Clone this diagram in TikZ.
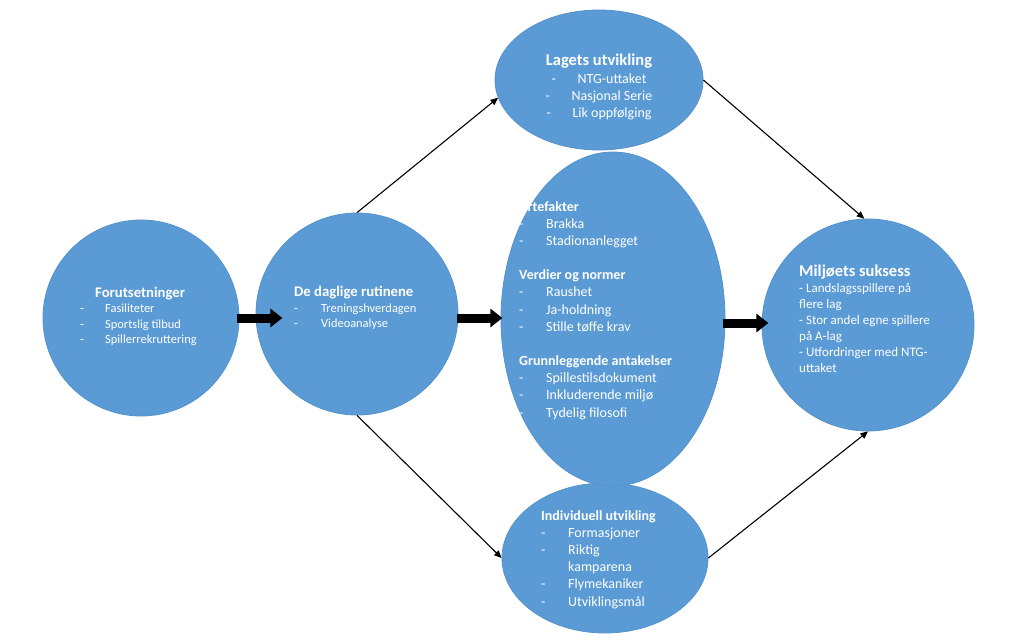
\documentclass[tikz,border=0pt]{standalone}
\usepackage{fontspec}
\setmainfont{Carlito}
\usetikzlibrary{shapes.geometric,arrows.meta,calc}
\definecolor{blobfill}{HTML}{5B9BD5}
\definecolor{blobedge}{HTML}{5592CC}
\begin{document}
\begin{tikzpicture}[x=1pt,y=-1pt,
  blob/.style={fill=blobfill,draw=blobedge,line width=0.8pt,inner sep=0pt},
  roundblob/.style={blob,circle,minimum size=#1},
  ovalblob/.style={blob,ellipse},
  txt/.style={text=white,inner sep=0pt,anchor=base west},
  bigarrow/.style={line width=9pt,-{Triangle[length=12pt,width=18pt]}},
  thinarrow/.style={line width=1.1pt,-{Triangle[length=7.5pt,width=6.5pt]}}]
\useasboundingbox (0,0) rectangle (1024,642);
\fill[white] (0,0) rectangle (1024,642);
% shapes
\node[roundblob=196pt] (c1) at (141,318) {};
\node[roundblob=202pt] (c2) at (357,314) {};
\node[ovalblob,minimum width=208pt,minimum height=140pt] (top) at (599,80) {};
\node[ovalblob,minimum width=206pt,minimum height=150pt] (bot) at (605,558) {};
\node[ovalblob,minimum width=224pt,minimum height=334pt] (mid) at (613,319) {};
\node[roundblob=212pt] (c6) at (868,325) {};
% texts
\node[txt,font=\fontsize{12.4}{15.3}\selectfont] (t1) at (80,297.5) {\begin{tabular}[t]{@{}p{25pt}@{}l@{}}
\multicolumn{2}{@{}l@{}}{\hspace*{15pt}{\fontsize{14.7}{15.3}\selectfont\bfseries Forutsetninger}}\\
- & Fasiliteter\\
- & Sportslig tilbud\\
- & Spillerrekruttering
\end{tabular}};
\node[txt,font=\fontsize{12.4}{15.7}\selectfont] (t2) at (294,296.5) {\begin{tabular}[t]{@{}p{27pt}@{}l@{}}
\multicolumn{2}{@{}l@{}}{{\fontsize{14.7}{15.7}\selectfont\bfseries De daglige rutinene}}\\
- & Treningshverdagen\\
- & Videoanalyse
\end{tabular}};
\node[txt,anchor=base,font=\fontsize{14}{17}\selectfont] (t3) at (599,65.5) {\begin{tabular}[t]{@{}c@{}}
{\fontsize{16.5}{17}\selectfont\bfseries Lagets utvikling}\\[0.8pt]
\makebox[26pt][l]{-}NTG-uttaket\\
\makebox[26pt][l]{-}Nasjonal Serie\\
\makebox[26pt][l]{-}Lik oppfølging
\end{tabular}};
\node[txt,font=\fontsize{14}{17.2}\selectfont\bfseries] (t4a) at (519,211) {Artefakter};
\node[txt,font=\fontsize{14}{17.2}\selectfont] (t4) at (519,228.2) {\begin{tabular}[t]{@{}p{27pt}@{}l@{}}
- & Brakka\\
- & Stadionanlegget\\[17pt]
\multicolumn{2}{@{}l@{}}{\textbf{Verdier og normer}}\\
- & Raushet\\
- & Ja-holdning\\
- & Stille tøffe krav\\[17pt]
\multicolumn{2}{@{}l@{}}{\textbf{Grunnleggende antakelser}}\\
- & Spillestilsdokument\\
- & Inkluderende miljø\\
- & Tydelig filosofi
\end{tabular}};
\node[txt,font=\fontsize{14}{17.2}\selectfont] (t5) at (541,520) {\begin{tabular}[t]{@{}p{27pt}@{}l@{}}
\multicolumn{2}{@{}l@{}}{\textbf{Individuell utvikling}}\\
- & Formasjoner\\
- & Riktig\\
  & kamparena\\
- & Flymekaniker\\
- & Utviklingsmål
\end{tabular}};
\node[txt,font=\fontsize{13}{16}\selectfont] (t6) at (799,276) {\begin{tabular}[t]{@{}l@{}}
{\fontsize{16.5}{17}\selectfont\textbf{Miljøets suksess}}\\
- Landslagsspillere på\\
flere lag\\
- Stor andel egne spillere\\
på A-lag\\
- Utfordringer med NTG-\\
uttaket
\end{tabular}};
% connectors
\draw[bigarrow] ([xshift=-2pt]c1.east) -- ++(45,0) coordinate (a1end);
\draw[bigarrow] ([yshift=-4pt,xshift=-1pt]c2.east) -- ++(45,0) coordinate (a2end);
\draw[bigarrow] ([yshift=-4pt,xshift=-2pt]mid.east) -- ++(45,0) coordinate (a3end);
\draw[thinarrow] (c2.north) -- (top.190);
\draw[thinarrow] (c2.south) -- (bot.west);
\draw[thinarrow] (top.east) -- (c6.92);
\draw[thinarrow] (bot.east) -- (c6.south);
\end{tikzpicture}
\end{document}
